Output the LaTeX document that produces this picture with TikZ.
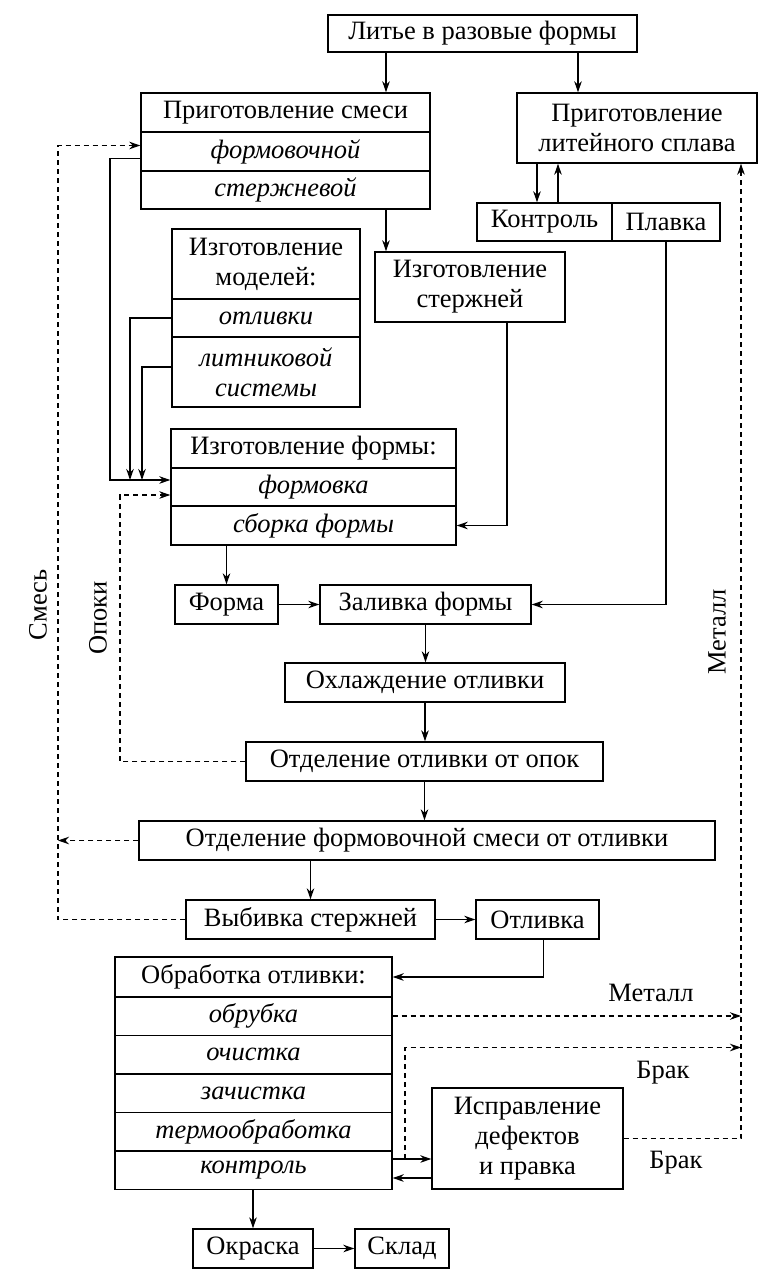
\documentclass[tikz,border=0pt]{standalone}
\usepackage{fontspec}
\setmainfont{Liberation Serif}
\usetikzlibrary{arrows.meta}
\begin{document}
\begin{tikzpicture}[x=1pt,y=-1pt,
  >={Stealth[length=11pt,width=7.5pt]},
  every node/.style={font=\fontsize{26.5}{30}\selectfont},
  box/.style={draw,line width=1.4pt,inner sep=0pt,align=center},
  it/.style={box,font=\fontsize{26.5}{30}\selectfont\itshape},
  every path/.style={line width=1.2pt},
  back/.style={line width=1.1pt,dash pattern=on 5pt off 4pt}]
\useasboundingbox (0,0) rectangle (764,1271);
% boxes
\node[box,minimum width=309pt,minimum height=37pt] (lit) at (482.5,33.5) {Литье в разовые формы};
\node[box,minimum width=289pt,minimum height=39pt] (smes) at (285.5,112.5) {Приготовление смеси};
\node[it,minimum width=289pt,minimum height=39pt] (smesF) at (285.5,151.5) {формовочной};
\node[it,minimum width=289pt,minimum height=38pt] (smesS) at (285.5,190) {стержневой};
\node[box,minimum width=240pt,minimum height=70pt] (splav) at (637,128) {Приготовление\\литейного сплава};
\node[box,minimum width=135pt,minimum height=38pt] (kontr) at (544.5,222) {Контроль};
\node[box,minimum width=108pt,minimum height=38pt] (plav) at (666,222) {Плавка};
\node[box,minimum width=188pt,minimum height=70pt] (model) at (266,264) {Изготовление\\моделей:};
\node[it,minimum width=188pt,minimum height=38pt] (otl) at (266,318) {отливки};
\node[it,minimum width=188pt,minimum height=70pt] (litn) at (266,372) {литниковой\\системы};
\node[box,minimum width=190pt,minimum height=70pt] (sterzh) at (470,287) {Изготовление\\стержней};
\node[box,minimum width=285pt,minimum height=39pt] (fhead) at (313.5,448.5) {Изготовление формы:};
\node[it,minimum width=285pt,minimum height=38pt] (fmovka) at (313.5,487) {формовка};
\node[it,minimum width=285pt,minimum height=39pt] (sborka) at (313.5,525.5) {сборка формы};
\node[box,minimum width=103pt,minimum height=39pt] (forma) at (226.5,604.5) {Форма};
\node[box,minimum width=211pt,minimum height=39pt] (zaliv) at (425.5,604.5) {Заливка формы};
\node[box,minimum width=280pt,minimum height=39pt] (ohl) at (425,682.5) {Охлаждение отливки};
\node[box,minimum width=357pt,minimum height=39pt] (otdO) at (424.5,761.5) {Отделение отливки от опок};
\node[box,minimum width=576pt,minimum height=39pt] (otdS) at (427,840.5) {Отделение формовочной смеси от отливки};
\node[box,minimum width=249pt,minimum height=39pt] (vybiv) at (310.5,919.5) {Выбивка стержней};
\node[box,minimum width=123pt,minimum height=39pt] (otliv) at (537.5,919.5) {Отливка};
\node[box,minimum width=277pt,minimum height=40pt] (obr) at (253.5,977) {Обработка отливки:};
\node[it,minimum width=277pt,minimum height=38.5pt] (obrub) at (253.5,1016) {обрубка};
\node[it,minimum width=277pt,minimum height=38.5pt] (ochist) at (253.5,1054.5) {очистка};
\node[it,minimum width=277pt,minimum height=38.5pt] (zachist) at (253.5,1093.5) {зачистка};
\node[it,minimum width=277pt,minimum height=38.5pt] (termo) at (253.5,1132) {термообработка};
\node[it,minimum width=277pt,minimum height=38.5pt] (kontrol) at (253.5,1170) {контроль};
\node[box,minimum width=191pt,minimum height=101pt] (ispr) at (527.5,1138.5) {Исправление\\дефектов\\и правка};
\node[box,minimum width=120pt,minimum height=39pt] (okr) at (253,1248.5) {Окраска};
\node[box,minimum width=94pt,minimum height=39pt] (sklad) at (402,1248.5) {Склад};
% labels
\node[rotate=90] (lSm) at (38,605) {Смесь};
\node[rotate=90] (lOp) at (98,618) {Опоки};
\node[rotate=90] (lMe) at (717,632) {Металл};
\node (lMe2) at (651,993) {Металл};
\node (lBr) at (663,1073) {Брак};
\node (lBr2) at (676,1163) {Брак};
% lines
\coordinate (sL) at (58,0);
\coordinate (oL) at (120,0);
\coordinate (mR) at (741,0);
\coordinate (fL) at (110,0);
\coordinate (mA) at (130,0);
\coordinate (mB) at (142,0);
\coordinate (aL) at (386,0);
\coordinate (aR) at (578,0);
\coordinate (kD) at (537,0);
\coordinate (kU) at (558,0);
\coordinate (bK) at (405,0);
\draw[->] (lit.south -| aL) -- (smes.north -| aL);
\draw[->] (lit.south -| aR) -- (splav.north -| aR);
\draw[->] (splav.south -| kD) -- (kontr.north -| kD);
\draw[->] (kontr.north -| kU) -- (splav.south -| kU);
\draw[->] (smesS.south -| aL) -- (sterzh.north -| aL);
\draw[->] ([yshift=-7pt]smesF.west) -| ([yshift=7pt]fmovka.west -| fL) -- ([yshift=7pt]fmovka.west);
\draw[->] (otl.west) -| ([yshift=7pt]fmovka.west -| mA);
\draw[->] ([yshift=5pt]litn.west) -| ([yshift=7pt]fmovka.west -| mB);
\draw[->] ([xshift=37pt]sterzh.south) |- (sborka.east);
\draw[->] (plav.south) |- (zaliv.east);
\draw[->] (sborka.south -| forma.north) -- (forma.north);
\draw[->] (forma) -- (zaliv);
\draw[->] (zaliv.south) -- (zaliv.south |- ohl.north);
\draw[->] (ohl.south) -- (ohl.south |- otdO.north);
\draw[->] (otdO.south) -- (otdO.south |- otdS.north);
\draw[->] (otdS.south -| vybiv.north) -- (vybiv.north);
\draw[->] (vybiv) -- (otliv);
\draw[->] ([xshift=6pt]otliv.south) |- (obr.east);
\draw[->] ([yshift=11pt]kontrol.east) -- ([yshift=11pt]kontrol.east -| ispr.west);
\draw[->] ([yshift=-8pt]kontrol.east -| ispr.west) -- ([yshift=-8pt]kontrol.east);
\draw[->] (kontrol.south -| okr.north) -- (okr.north);
\draw[->] (okr) -- (sklad);
% returns
\draw[back,->] (otdO.west) -| ([yshift=-8pt]fmovka.west -| oL) -- ([yshift=-8pt]fmovka.west);
\draw[back,->] (vybiv.west) -| ([yshift=6pt]smesF.west -| sL) -- ([yshift=6pt]smesF.west);
\draw[back,->] (otdS.west) -- (otdS.west -| sL);
\draw[back,->] (ispr.east) -| (splav.south -| mR);
\draw[back,->] (obrub.east) -- (obrub.east -| mR);
\draw[back,->] ([yshift=11pt]kontrol.east -| bK) |- ([yshift=7pt]ochist.east -| mR);
\end{tikzpicture}
\end{document}
